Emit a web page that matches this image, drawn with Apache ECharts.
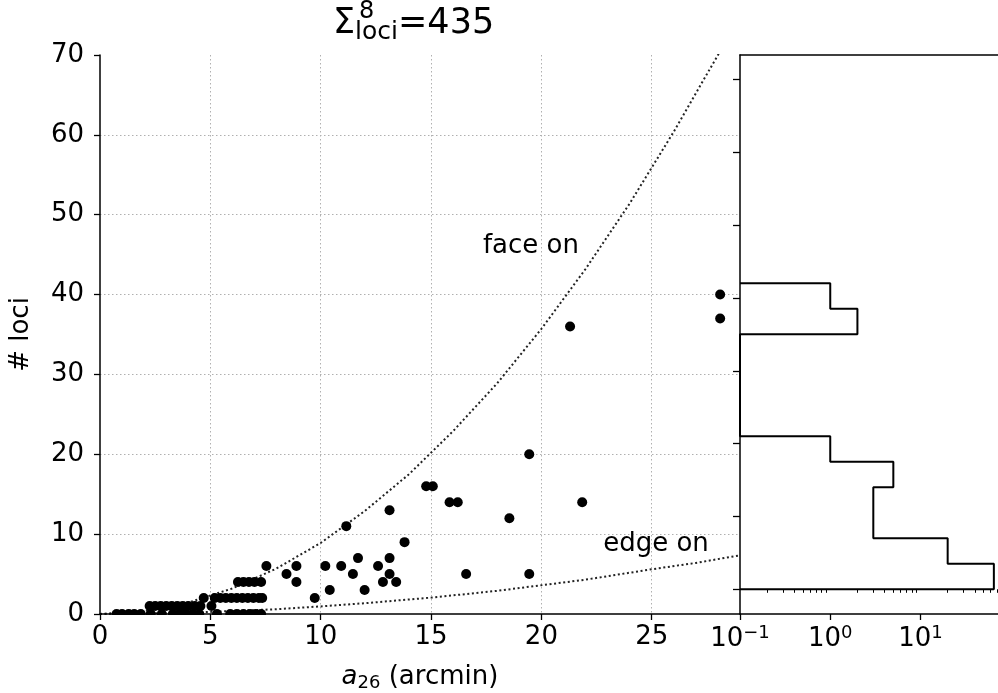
<!DOCTYPE html>
<html><head><meta charset="utf-8">
<script src="https://cdn.jsdelivr.net/npm/echarts@6/dist/echarts.min.js"></script>
<style>html,body{margin:0;padding:0;background:#fff}#c{width:998px;height:693px}</style>
</head><body><div id="c"></div>
<script>
// ---- data ----
const a26 = [
  0.75,1.0,1.3,1.55,1.85,2.3,2.8,3.3,3.6,3.9,4.2,4.5,5.3,5.9,6.2,6.5,6.8,7.05,7.3,
  2.25,2.5,2.75,3.0,3.25,3.5,3.75,4.0,4.3,4.55,5.05,
  4.7,5.2,5.45,5.7,5.95,6.2,6.45,6.7,6.95,7.2,7.35,9.73,
  10.41,11.99,
  6.25,6.5,6.75,7.0,7.3,8.9,12.82,13.42,
  8.45,11.46,13.12,16.59,19.45,
  7.54,8.9,10.21,10.93,12.6,
  11.69,13.12,
  13.8,11.16,18.55,13.12,
  15.84,16.21,21.85,
  14.78,15.08,
  19.45,21.3,28.1,28.1
];
const loci = [
  0,0,0,0,0,0,0,0,0,0,0,0,0,0,0,0,0,0,0,
  1,1,1,1,1,1,1,1,1,1,1,
  2,2,2,2,2,2,2,2,2,2,2,2,
  3,3,
  4,4,4,4,4,4,4,4,
  5,5,5,5,5,
  6,6,6,6,6,
  7,7,
  9,11,12,13,
  14,14,14,
  16,16,
  20,36,37,40
];
const faceOnX = [0,2,4,6,8,10,12,14,16,18,20,22,24,26,28,29];
const faceOnY = [0,0.36,1.43,3.2,5.7,8.9,12.9,17.5,22.9,28.9,35.7,43.2,51.4,60.4,70.0,75.1];
const edgeOnX = [0,4,8,10,12,15,18,20,22,25,27,29];
const edgeOnY = [0,0.15,0.6,0.95,1.35,2.05,2.9,3.6,4.3,5.6,6.4,7.35];
const histBinEdges = [0,1,2,3,4,5,6,7,8,9,10,11,12];
const histCounts = [65,20,3,3,5,1,0,0,0,0,2,1];
const histTicks = [0,2.855,5.71,8.565,11.42,14.275,17.13,19.985];
const xTicks = [0,5,10,15,20,25];
const yTicks = [0,10,20,30,40,50,60,70];
const logTicks = [0.1,1,10];
const logMinorTicks = [0.2,0.3,0.4,0.5,0.6,0.7,0.8,0.9,2,3,4,5,6,7,8,9,20,30,40,50,60,70,80];

// ---- build ----
const FONT = 'DejaVu Sans';
const points = a26.map((x,i)=>[x, loci[i]]);
const faceOn = faceOnX.map((x,i)=>[x, faceOnY[i]]);
const edgeOn = edgeOnX.map((x,i)=>[x, edgeOnY[i]]);
const HIST_MIN = 0.1;
const histLine = [[HIST_MIN, histBinEdges[0]]];
histCounts.forEach((c,i)=>{
  const v = c > 0 ? c : HIST_MIN;
  histLine.push([v, histBinEdges[i]]);
  histLine.push([v, histBinEdges[i+1]]);
});
histLine.push([HIST_MIN, histBinEdges[histBinEdges.length-1]]);

const black = '#000';
const gridLineColors = yTicks.map((v,i)=> (i===0 || i===yTicks.length-1) ? 'rgba(0,0,0,0)' : '#b0b0b0');
const xGridColors = [0,5,10,15,20,25,29].map((v,i)=> (i===0 || i===6) ? 'rgba(0,0,0,0)' : '#b0b0b0');

const chart = echarts.init(document.getElementById('c'), null, {renderer:'canvas', width:998, height:693});
const supFmt = v => { const e = Math.round(Math.log10(v)); return '10{sup|' + (e<0 ? '\u2212' + (-e) : e) + '}'; };

const option = {
  animation: false,
  backgroundColor: '#fff',
  textStyle: {fontFamily: FONT},
  title: [
    {text: '{m|\u03a3}{sub|loci}{m|=435}', left: 333, top: 3, padding: 0,
     textStyle: {fontWeight: 'normal', rich: {
       m: {fontFamily: FONT, fontSize: 35, fontWeight: 'normal', lineHeight: 42, color: black},
       sub: {fontFamily: FONT, fontSize: 25, fontWeight: 'normal', lineHeight: 22, verticalAlign: 'bottom', color: black}
     }}},
    {text: '8', left: 359, top: 0, padding: 0, textStyle: {fontFamily: FONT, fontSize: 24, fontWeight: 'normal', color: black}}
  ],
  grid: [
    {left: 100, top: 55, right: 258, bottom: 79, outerBoundsMode: 'none'},
    {left: 740, top: 55, right: -4, bottom: 79, outerBoundsMode: 'none'}
  ],
  xAxis: [
    {type: 'value', gridIndex: 0, min: 0, max: 29, interval: 5, z: 10,
     axisLine: {show: true, onZero: false, lineStyle: {color: black, width: 1.5}},
     axisTick: {show: true, length: 6, lineStyle: {color: black, width: 1.3}},
     axisLabel: {show: true, showMaxLabel: false, margin: 10, fontSize: 26, color: black, fontFamily: FONT},
     splitLine: {show: false},
     name: '{i|a}{s|26}{m| (arcmin)}', nameLocation: 'middle', nameGap: 48,
     nameTextStyle: {rich: {
       i: {fontFamily: FONT, fontStyle: 'italic', fontSize: 26, lineHeight: 30, color: black},
       m: {fontFamily: FONT, fontSize: 26, lineHeight: 30, color: black},
       s: {fontFamily: FONT, fontSize: 18, lineHeight: 14, verticalAlign: 'bottom', color: black}
     }}},
    {type: 'value', gridIndex: 0, min: 0, max: 29, interval: 5, z: 0,
     axisLine: {show: false}, axisTick: {show: false}, axisLabel: {show: false},
     splitLine: {show: true, lineStyle: {color: xGridColors, width: 1, type: [1.5, 2.5]}}},
    {type: 'log', gridIndex: 1, logBase: 10, min: 0.1, max: 80, z: 10,
     axisLine: {show: true, onZero: false, lineStyle: {color: black, width: 1.5}},
     axisTick: {show: true, length: 6, customValues: logTicks, lineStyle: {color: black, width: 1.3}},
     axisLabel: {show: true, customValues: logTicks, margin: 10, formatter: supFmt,
       rich: {sup: {fontFamily: FONT, fontSize: 18, lineHeight: 20, verticalAlign: 'top', color: black}},
       fontSize: 26, lineHeight: 30, color: black, fontFamily: FONT},
     splitLine: {show: false}},
    {type: 'log', gridIndex: 1, logBase: 10, min: 0.1, max: 80, z: 10, position: 'bottom',
     axisLine: {show: false},
     axisTick: {show: true, length: 3.5, customValues: logMinorTicks, lineStyle: {color: black, width: 1}},
     axisLabel: {show: false}, splitLine: {show: false}},
    {type: 'value', gridIndex: 1, min: 0, max: 1, position: 'top', z: 10,
     axisLine: {show: true, lineStyle: {color: black, width: 1.5}},
     axisTick: {show: false}, axisLabel: {show: false}, splitLine: {show: false}}
  ],
  yAxis: [
    {type: 'value', gridIndex: 0, min: 0, max: 70, interval: 10, z: 10, position: 'left',
     axisLine: {show: true, onZero: false, lineStyle: {color: black, width: 1.5}},
     axisTick: {show: true, length: 6, lineStyle: {color: black, width: 1.3}},
     axisLabel: {show: true, margin: 16, fontSize: 26, color: black, fontFamily: FONT},
     splitLine: {show: false},
     name: '# loci', nameLocation: 'middle', nameGap: 66, nameRotate: 90,
     nameTextStyle: {fontFamily: FONT, fontSize: 26, color: black}},
    {type: 'value', gridIndex: 0, min: 0, max: 70, interval: 10, z: 0, position: 'right',
     axisLine: {show: false}, axisTick: {show: false}, axisLabel: {show: false},
     splitLine: {show: true, lineStyle: {color: gridLineColors, width: 1, type: [1.5, 2.5]}}},
    {type: 'value', gridIndex: 1, min: -0.969, max: 20.953, z: 10, position: 'left',
     axisLine: {show: true, onZero: false, lineStyle: {color: black, width: 1.5}},
     axisTick: {show: true, length: 7, customValues: histTicks, lineStyle: {color: black, width: 1.3}},
     axisLabel: {show: false}, splitLine: {show: false}}
  ],
  graphic: [
    {type: 'rect', shape: {x: 101, y: 614.9, width: 638, height: 8}, style: {fill: '#fff'}, z: 5, silent: true}
  ],
  series: [
    {type: 'line', xAxisIndex: 0, yAxisIndex: 0, data: faceOn, showSymbol: false, symbol: 'none', clip: true, z: 2,
     lineStyle: {color: '#222', width: 2, type: [2, 2.6]}},
    {type: 'line', xAxisIndex: 0, yAxisIndex: 0, data: edgeOn, showSymbol: false, symbol: 'none', clip: true, z: 2,
     lineStyle: {color: '#222', width: 2, type: [2, 2.6]}},
    {type: 'scatter', xAxisIndex: 0, yAxisIndex: 0, data: points, symbol: 'circle', symbolSize: 10, clip: false, z: 3,
     itemStyle: {color: black, opacity: 1}},
    {type: 'scatter', xAxisIndex: 0, yAxisIndex: 0, data: [[17.35, 44.4]], symbolSize: 0, z: 4, silent: true,
     itemStyle: {opacity: 1},
     label: {show: true, position: 'right', distance: 0, formatter: 'face on', fontFamily: FONT, fontSize: 26, color: '#000', align: 'left', verticalAlign: 'bottom'}},
    {type: 'scatter', xAxisIndex: 0, yAxisIndex: 0, data: [[22.8, 7.15]], symbolSize: 0, z: 4, silent: true,
     itemStyle: {opacity: 1},
     label: {show: true, position: 'right', distance: 0, formatter: 'edge on', fontFamily: FONT, fontSize: 26, color: '#000', align: 'left', verticalAlign: 'bottom'}},
    {type: 'line', xAxisIndex: 2, yAxisIndex: 2, data: histLine, showSymbol: false, symbol: 'none', clip: true, z: 3,
     lineStyle: {color: black, width: 2}}
  ]
};
chart.setOption(option);
</script>
</body></html>
